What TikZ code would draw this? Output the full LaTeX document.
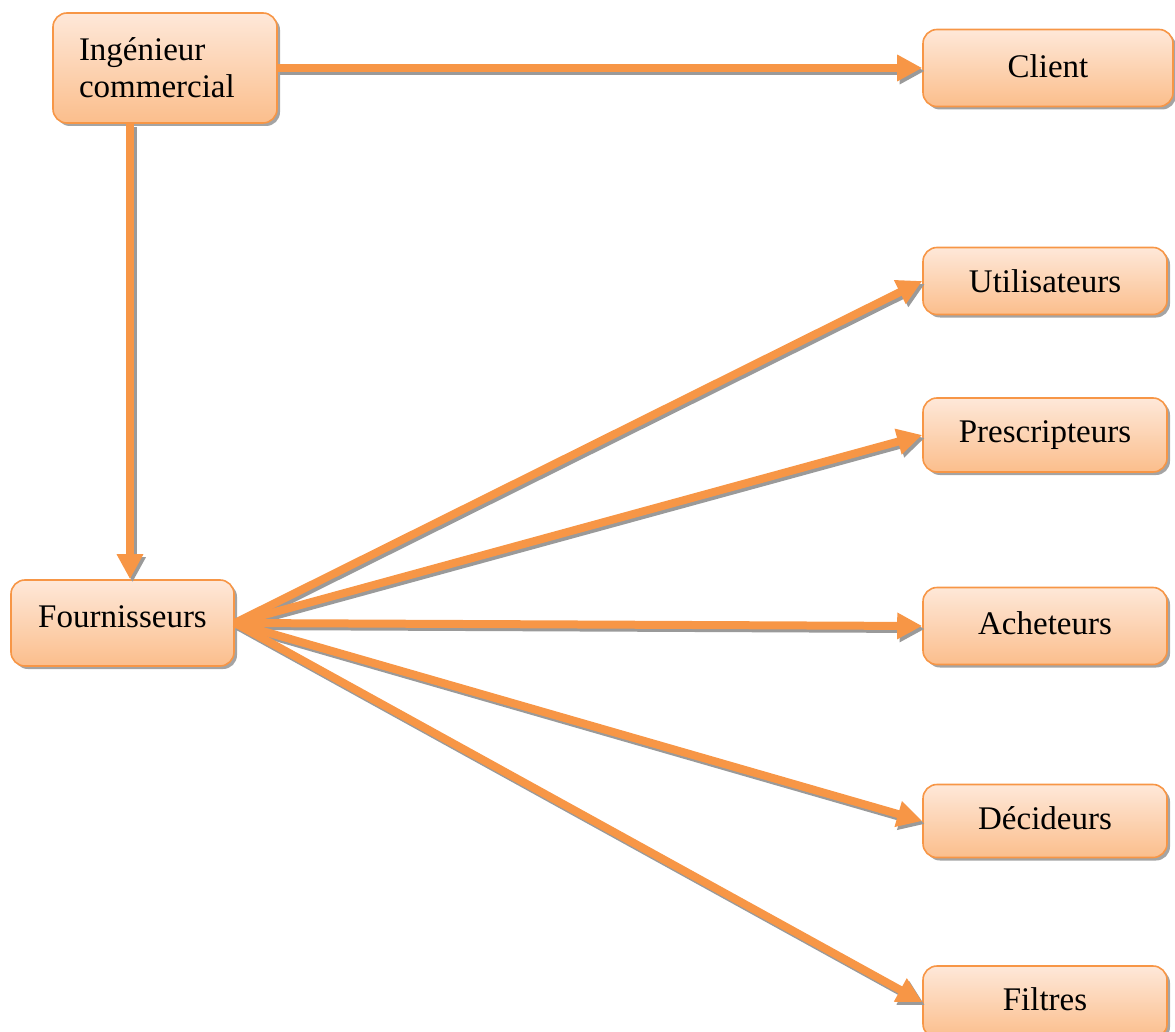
\documentclass[tikz,border=0pt]{standalone}
\usepackage{fontspec}
\setmainfont{Liberation Serif}
\usetikzlibrary{arrows.meta,shadows}
\definecolor{orbord}{HTML}{F79646}
\definecolor{ortop}{HTML}{FEE8D9}
\definecolor{orbot}{HTML}{FBBE8C}
\definecolor{shgray}{HTML}{9A9A9A}
\tikzset{
  box/.style={draw=orbord, line width=1.6pt, rounded corners=14pt,
    top color=ortop, bottom color=orbot,
    drop shadow={shadow xshift=3pt, shadow yshift=-3pt, fill=shgray, opacity=0.9},
    font=\fontsize{33}{37}\selectfont, inner sep=0pt},
  conn/.style={draw=orbord, line width=8pt,
    -{Triangle[length=25pt,width=25pt]}},
  connsh/.style={draw=shgray, line width=8pt,
    -{Triangle[length=25pt,width=25pt]},
    transform canvas={shift={(2.5pt,-3pt)}}}
}
\begin{document}
\begin{tikzpicture}[x=1pt,y=-1pt]
\useasboundingbox (0,0) rectangle (1175,1032);
\node[box, minimum width=224pt, minimum height=110pt, text width=172pt, align=left] (ing) at (165,68) {\raisebox{3pt}{\parbox{172pt}{Ingénieur\\commercial}}};
\node[box, minimum width=250pt, minimum height=77pt] (client) at (1048,68) {\raisebox{3pt}{Client}};
\node[box, minimum width=244pt, minimum height=67pt] (util) at (1045,281) {Utilisateurs};
\node[box, minimum width=244pt, minimum height=74pt] (presc) at (1045,435) {\raisebox{2pt}{Prescripteurs}};
\node[box, minimum width=223pt, minimum height=86pt] (fourn) at (122.5,623) {\raisebox{12pt}{Fournisseurs}};
\node[box, minimum width=244pt, minimum height=77pt] (ach) at (1045,626) {\raisebox{6pt}{Acheteurs}};
\node[box, minimum width=244pt, minimum height=73pt] (dec) at (1045,821) {\raisebox{5pt}{Décideurs}};
\node[box, minimum width=244pt, minimum height=72pt] (filt) at (1045,1002) {\raisebox{5pt}{Filtres}};
\coordinate (ingdown) at ([xshift=-35pt]ing.south);
\foreach \s in {connsh,conn}{
  \path[\s] (ing.east) -- (client.west);
  \path[\s] (ingdown) -- (ingdown |- fourn.north);
  \path[\s] (fourn.east) -- (util.west);
  \path[\s] (fourn.east) -- (presc.west);
  \path[\s] (fourn.east) -- (ach.west);
  \path[\s] (fourn.east) -- (dec.west);
  \path[\s] (fourn.east) -- (filt.west);
}
\end{tikzpicture}
\end{document}
